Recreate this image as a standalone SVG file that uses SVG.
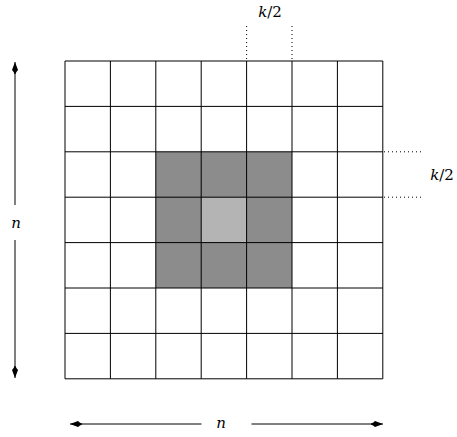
<svg xmlns="http://www.w3.org/2000/svg" width="457" height="437" viewBox="0 0 457 437">
<style>
.grid line{stroke:#000;stroke-width:1;}
.dot{stroke:#000;stroke-width:1;stroke-dasharray:1 3;fill:none;}
.arr{stroke:#000;stroke-width:1;fill:none;}
</style>
<defs>
<marker id="tip" markerUnits="userSpaceOnUse" markerWidth="14" markerHeight="8" refX="0" refY="0" viewBox="-13 -4 14 8" orient="auto">
<path d="M0,0 Q-4,-1.5 -8,-3 Q-10,-1 -12,-0.5 L-12,0.5 Q-10,1 -8,3 Q-4,1.5 0,0 Z" fill="#000"/>
</marker>
</defs>
<g id="cells">
<rect x="155.8" y="151.8" width="136.2" height="136.2" fill="#8c8c8c"/>
<rect x="201.2" y="197.2" width="45.4" height="45.4" fill="#b4b4b4"/>
</g>
<g id="grid" class="grid">
<line x1="65" y1="61" x2="65" y2="378.8"/>
<line x1="110.4" y1="61" x2="110.4" y2="378.8"/>
<line x1="155.8" y1="61" x2="155.8" y2="378.8"/>
<line x1="201.2" y1="61" x2="201.2" y2="378.8"/>
<line x1="246.6" y1="61" x2="246.6" y2="378.8"/>
<line x1="292" y1="61" x2="292" y2="378.8"/>
<line x1="337.4" y1="61" x2="337.4" y2="378.8"/>
<line x1="382.8" y1="61" x2="382.8" y2="378.8"/>
<line x1="65" y1="61" x2="382.8" y2="61"/>
<line x1="65" y1="106.4" x2="382.8" y2="106.4"/>
<line x1="65" y1="151.8" x2="382.8" y2="151.8"/>
<line x1="65" y1="197.2" x2="382.8" y2="197.2"/>
<line x1="65" y1="242.6" x2="382.8" y2="242.6"/>
<line x1="65" y1="288" x2="382.8" y2="288"/>
<line x1="65" y1="333.4" x2="382.8" y2="333.4"/>
<line x1="65" y1="378.8" x2="382.8" y2="378.8"/>
</g>
<g id="connectors">
<line class="dot" x1="246.6" y1="26" x2="246.6" y2="60"/>
<line class="dot" x1="292" y1="26" x2="292" y2="60"/>
<line class="dot" x1="384" y1="151.8" x2="421" y2="151.8"/>
<line class="dot" x1="384" y1="197.2" x2="421" y2="197.2"/>
<line class="arr" x1="15" y1="205" x2="15" y2="62" marker-end="url(#tip)"/>
<line class="arr" x1="15" y1="240" x2="15" y2="378" marker-end="url(#tip)"/>
<line class="arr" x1="201.5" y1="424" x2="70" y2="424" marker-end="url(#tip)"/>
<line class="arr" x1="251.5" y1="424" x2="383" y2="424" marker-end="url(#tip)"/>
</g>
<g id="labels" font-family="DejaVu Serif, serif" font-size="15" fill="#000">
<text x="270" y="17" text-anchor="middle"><tspan font-style="italic">k</tspan>/2</text>
<text x="442" y="180" text-anchor="middle"><tspan font-style="italic">k</tspan>/2</text>
<text x="16" y="228" text-anchor="middle" font-style="italic">n</text>
<text x="221" y="428" text-anchor="middle" font-style="italic">n</text>
</g>
</svg>
